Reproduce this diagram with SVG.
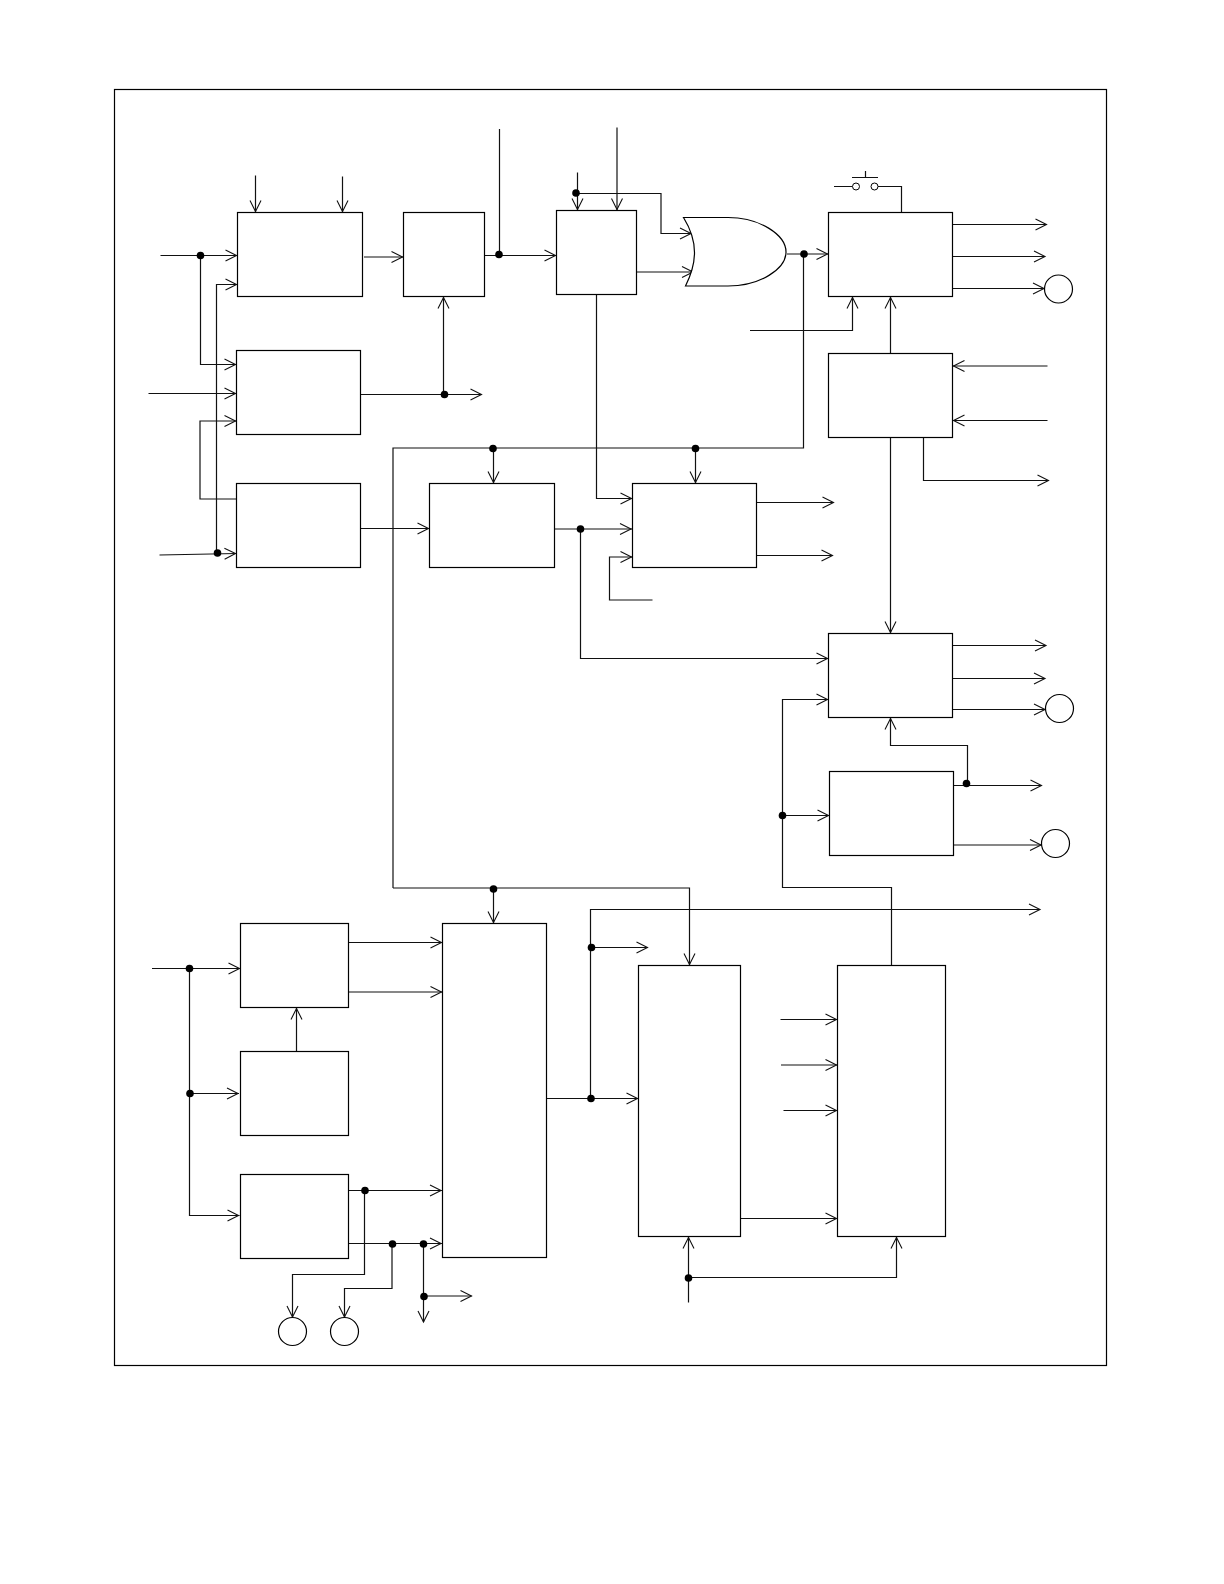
<svg xmlns="http://www.w3.org/2000/svg" width="1224" height="1584" viewBox="0 0 1224 1584">
<style>
rect.n,circle.c,path.g{fill:#fff;stroke:#000;stroke-width:1.2}
#connectors path{fill:none;stroke:#111;stroke-width:1.2}
#connectors path.a{marker-end:url(#arr)}
#connectors path.f{marker-end:url(#arrf)}
#connectors circle{fill:#000;stroke:none}
.sw{fill:#fff;stroke:#000;stroke-width:1}
</style>
<defs>
<marker id="arr" markerUnits="userSpaceOnUse" markerWidth="14" markerHeight="14" refX="13" refY="7" orient="auto" overflow="visible">
<path d="M1,1.5 L12,7 L1,12.5" fill="none" stroke="#111" stroke-width="1.1"/>
</marker>
<marker id="arrf" markerUnits="userSpaceOnUse" markerWidth="14" markerHeight="14" refX="12" refY="7" orient="auto" overflow="visible">
<path d="M1,1.5 L12,7 L1,12.5" fill="none" stroke="#111" stroke-width="1.1"/>
</marker>
</defs>
<rect width="1224" height="1584" fill="#fff"/>
<rect id="frame" x="114.5" y="89.5" width="992" height="1276" fill="none" stroke="#000" stroke-width="1.2"/>
<g id="connectors">
<path class="a" d="M160.5 255.5H237.5"/>
<path class="a" d="M200.5 255.5V364.5H236.5"/>
<path class="a" d="M216.5 553V284.5H237.5"/>
<path class="a" d="M159.5 555L236.5 553.5"/>
<path class="a" d="M148.5 393.5H236.5"/>
<path class="a" d="M236.5 499H200V421H236.5"/>
<path class="a" d="M255.5 175.5V212.5"/>
<path class="a" d="M342.5 176.5V212.5"/>
<path class="a" d="M364 257H403.5"/>
<path class="a" d="M484.5 255.5H556.5"/>
<path d="M499.5 129V255.5"/>
<path class="f" d="M360.5 394.5H481.5"/>
<path class="a" d="M443.5 394.5V296.5"/>
<path class="a" d="M360.5 528.5H429.5"/>
<path d="M393 888V448H803.5V254"/>
<path class="a" d="M493.5 448V483.5"/>
<path class="a" d="M695.5 448V483.5"/>
<path class="a" d="M577.5 172.5V210.5"/>
<path class="a" d="M576 193.5H661V233.5H692"/>
<path class="a" d="M617 127.5V210.5"/>
<path class="a" d="M636.5 272H694"/>
<path class="a" d="M787 254H828.5"/>
<path class="a" d="M596.5 294.5V498.5H632.5"/>
<path class="a" d="M554.5 529H632"/>
<path class="a" d="M580.5 529V658.5H828.5"/>
<path class="a" d="M652.5 600H609.5V557H632.5"/>
<path class="f" d="M756.5 502.5H833.5"/>
<path class="f" d="M756.5 555.5H832.5"/>
<path class="a" d="M750 330.5H852.5V296.5"/>
<path d="M834 186.5H852.5M877.5 186.5H901.5V212.5"/>
<path d="M852 177.5H878M865.5 171V177.5"/>
<path class="f" d="M952.5 224.5H1046.5"/>
<path class="f" d="M952.5 256.5H1045"/>
<path class="a" d="M952.5 288.5H1045"/>
<path class="a" d="M1047.5 366H952.5"/>
<path class="a" d="M1047.5 420.5H952.5"/>
<path class="f" d="M923.5 437.5V480.5H1048.5"/>
<path class="a" d="M890.5 353.5V296.5"/>
<path class="a" d="M890.5 437.5V633.5"/>
<path class="f" d="M952.5 645.5H1046"/>
<path class="f" d="M952.5 678.5H1045"/>
<path class="a" d="M952.5 709.5H1046"/>
<path class="a" d="M967.5 784V745.5H890.5V717.5"/>
<path class="f" d="M953.5 785.5H1041.5"/>
<path class="a" d="M953.5 845H1042"/>
<path class="a" d="M891.5 965.5V887.5H782.5V699.5H828.5"/>
<path class="a" d="M782.5 815.5H829.5"/>
<path class="f" d="M590.5 1098.5V909.5H1040"/>
<path class="f" d="M591 947.5H647.5"/>
<path class="a" d="M546.5 1098.5H638.5"/>
<path class="a" d="M393 888H689.5V965.5"/>
<path class="a" d="M493.5 888V923.5"/>
<path class="a" d="M780.5 1019.5H837.5"/>
<path class="a" d="M781 1065H837.5"/>
<path class="a" d="M783.5 1110.5H837.5"/>
<path class="a" d="M740.5 1218.5H837.5"/>
<path class="a" d="M688.5 1302.5V1236.5"/>
<path class="a" d="M688.5 1277.5H896.5V1236.5"/>
<path class="a" d="M152 968.5H240.5"/>
<path class="a" d="M189.5 968.5V1215.5H239.5"/>
<path class="a" d="M189.5 1093.5H239"/>
<path class="a" d="M296.5 1051.5V1007.5"/>
<path class="a" d="M348.5 942.5H442.5"/>
<path class="a" d="M348.5 992H442.5"/>
<path class="a" d="M348.5 1190.5H442"/>
<path class="a" d="M364.5 1190.5V1274.5H292.5V1318"/>
<path class="a" d="M348.5 1243.5H442"/>
<path class="a" d="M392 1244V1288.5H344.5V1318"/>
<path class="f" d="M423.5 1244V1322"/>
<path class="f" d="M424 1296H471.5"/>
<circle cx="200.5" cy="255.5" r="3.8"/>
<circle cx="217.5" cy="553" r="3.8"/>
<circle cx="499" cy="254.5" r="3.8"/>
<circle cx="444.5" cy="394.5" r="3.8"/>
<circle cx="493" cy="448.5" r="3.8"/>
<circle cx="695.5" cy="448.5" r="3.8"/>
<circle cx="576" cy="193" r="3.8"/>
<circle cx="804" cy="254" r="3.8"/>
<circle cx="580.5" cy="529" r="3.8"/>
<circle cx="966.5" cy="783.5" r="3.8"/>
<circle cx="782.5" cy="815.5" r="3.8"/>
<circle cx="591" cy="1098.5" r="3.8"/>
<circle cx="591.5" cy="947.5" r="3.8"/>
<circle cx="493.5" cy="889" r="3.8"/>
<circle cx="688.5" cy="1278" r="3.8"/>
<circle cx="189.5" cy="968.5" r="3.8"/>
<circle cx="190" cy="1093.5" r="3.8"/>
<circle cx="365" cy="1190.5" r="3.8"/>
<circle cx="392.5" cy="1244" r="3.8"/>
<circle cx="423.5" cy="1244" r="3.8"/>
<circle cx="424" cy="1296.5" r="3.8"/>
</g>
<g id="node-a"><rect class="n" x="237.5" y="212.5" width="125" height="84"/></g>
<g id="node-b"><rect class="n" x="236.5" y="350.5" width="124" height="84"/></g>
<g id="node-c"><rect class="n" x="236.5" y="483.5" width="124" height="84"/></g>
<g id="node-d"><rect class="n" x="403.5" y="212.5" width="81" height="84"/></g>
<g id="node-e"><rect class="n" x="429.5" y="483.5" width="125" height="84"/></g>
<g id="node-f"><rect class="n" x="556.5" y="210.5" width="80" height="84"/></g>
<g id="node-g"><rect class="n" x="632.5" y="483.5" width="124" height="84"/></g>
<g id="node-h"><rect class="n" x="828.5" y="212.5" width="124" height="84"/></g>
<g id="node-i"><rect class="n" x="828.5" y="353.5" width="124" height="84"/></g>
<g id="node-j"><rect class="n" x="828.5" y="633.5" width="124" height="84"/></g>
<g id="node-k"><rect class="n" x="829.5" y="771.5" width="124" height="84"/></g>
<g id="node-l"><rect class="n" x="240.5" y="923.5" width="108" height="84"/></g>
<g id="node-m"><rect class="n" x="240.5" y="1051.5" width="108" height="84"/></g>
<g id="node-n"><rect class="n" x="240.5" y="1174.5" width="108" height="84"/></g>
<g id="node-o"><rect class="n" x="442.5" y="923.5" width="104" height="334"/></g>
<g id="node-p"><rect class="n" x="638.5" y="965.5" width="102" height="271"/></g>
<g id="node-q"><rect class="n" x="837.5" y="965.5" width="108" height="271"/></g>
<g id="or-gate"><path class="g" d="M683.5 217.5H728C760 217.5 786 235 786 252C786 269 760 286 728 286H685.5C691 275 694.5 265 694.5 252.5C694.5 240 690 228 683.5 217.5Z"/></g>
<g id="switch"><circle class="sw" cx="856" cy="186.5" r="3.5"/><circle class="sw" cx="874.5" cy="186.5" r="3.5"/></g>
<g id="term-1"><circle class="c" cx="1058.5" cy="289" r="14"/></g>
<g id="term-2"><circle class="c" cx="1059.5" cy="708.5" r="14"/></g>
<g id="term-3"><circle class="c" cx="1055.5" cy="843.5" r="14"/></g>
<g id="term-4"><circle class="c" cx="292.5" cy="1331.5" r="14"/></g>
<g id="term-5"><circle class="c" cx="344.5" cy="1331.5" r="14"/></g>
</svg>
